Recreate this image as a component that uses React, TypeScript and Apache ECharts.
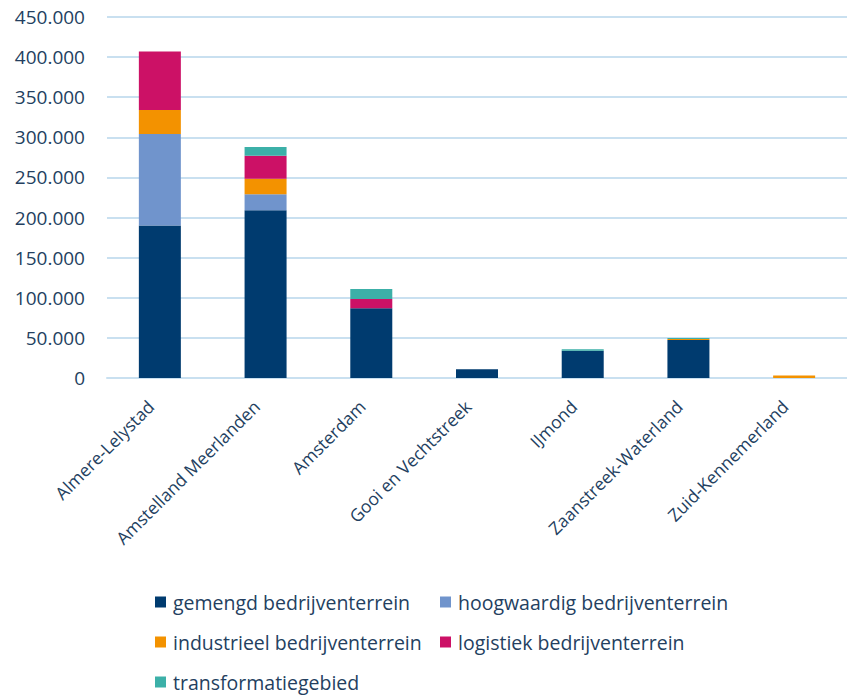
import React, { useEffect, useRef } from "react";
import * as echarts from "echarts";

const categories = [
  "Almere-Lelystad",
  "Amstelland Meerlanden",
  "Amsterdam",
  "Gooi en Vechtstreek",
  "IJmond",
  "Zaanstreek-Waterland",
  "Zuid-Kennemerland",
];
const gemengd = [190000, 209000, 87000, 11000, 34000, 47500, 0];
const hoogwaardig = [114000, 20000, 0, 0, 0, 0, 0];
const industrieel = [30000, 19500, 0, 0, 0, 1000, 3000];
const logistiek = [73000, 28500, 11500, 0, 0, 0, 0];
const transformatie = [0, 11000, 12500, 0, 1800, 1500, 0];

const seriesNames = [
  "gemengd bedrijventerrein",
  "hoogwaardig bedrijventerrein",
  "industrieel bedrijventerrein",
  "logistiek bedrijventerrein",
  "transformatiegebied",
];
const seriesData = [gemengd, hoogwaardig, industrieel, logistiek, transformatie];
const colors = ["#003b6f", "#7094cc", "#f39200", "#cc1166", "#3cb0a8"];

const textColor = "#243f5f";
const font = "'Open Sans', 'Noto Sans', sans-serif";

export default function App() {
  const ref = useRef<HTMLDivElement>(null);
  useEffect(() => {
    if (!ref.current) return;
    const chart = echarts.init(ref.current, undefined, { renderer: "svg" });
    const legendPos = [
      { left: 155, top: 592 },
      { left: 440, top: 592 },
      { left: 155, top: 632 },
      { left: 440, top: 632 },
      { left: 155, top: 672 },
    ];
    const legends = seriesNames.map((n, i) => ({
      ...legendPos[i],
      padding: 0,
      itemWidth: 11,
      itemHeight: 11,
      icon: "rect",
      data: [n],
      textStyle: { color: textColor, fontSize: 19.5, fontFamily: font, padding: [0, 0, 0, 2] },
    }));
    chart.setOption({
      animation: false,
      color: colors,
      grid: { left: 107, top: 17, width: 748, height: 361, containLabel: false },
      legend: legends,
      xAxis: {
        type: "category",
        data: categories,
        axisTick: { show: false },
        axisLine: { show: true, lineStyle: { color: "#c9e0f0", width: 2 } },
        axisLabel: {
          rotate: 45,
          interval: 0,
          margin: 16,
          padding: [0, 13, 0, 0],
          color: textColor,
          fontSize: 17.5,
          fontFamily: font,
        },
      },
      yAxis: {
        type: "value",
        min: 0,
        max: 450000,
        interval: 50000,
        axisLine: { show: false },
        axisTick: { show: false },
        splitLine: { lineStyle: { color: "#c9e0f0", width: 2 } },
        axisLabel: {
          margin: 22,
          color: textColor,
          fontSize: 19,
          fontFamily: font,
          formatter: (v: number) =>
            v === 0 ? "0" : String(v).replace(/\B(?=(\d{3})+(?!\d))/g, "."),
        },
      },
      series: seriesNames.map((name, i) => ({
        name,
        type: "bar",
        stack: "total",
        barWidth: 42,
        data: seriesData[i],
        itemStyle: { color: colors[i] },
      })),
    });
    return () => chart.dispose();
  }, []);
  return (
    <div
      ref={ref}
      style={{ position: "absolute", left: 0, top: 0, width: 847, height: 698, background: "#fff" }}
    />
  );
}
